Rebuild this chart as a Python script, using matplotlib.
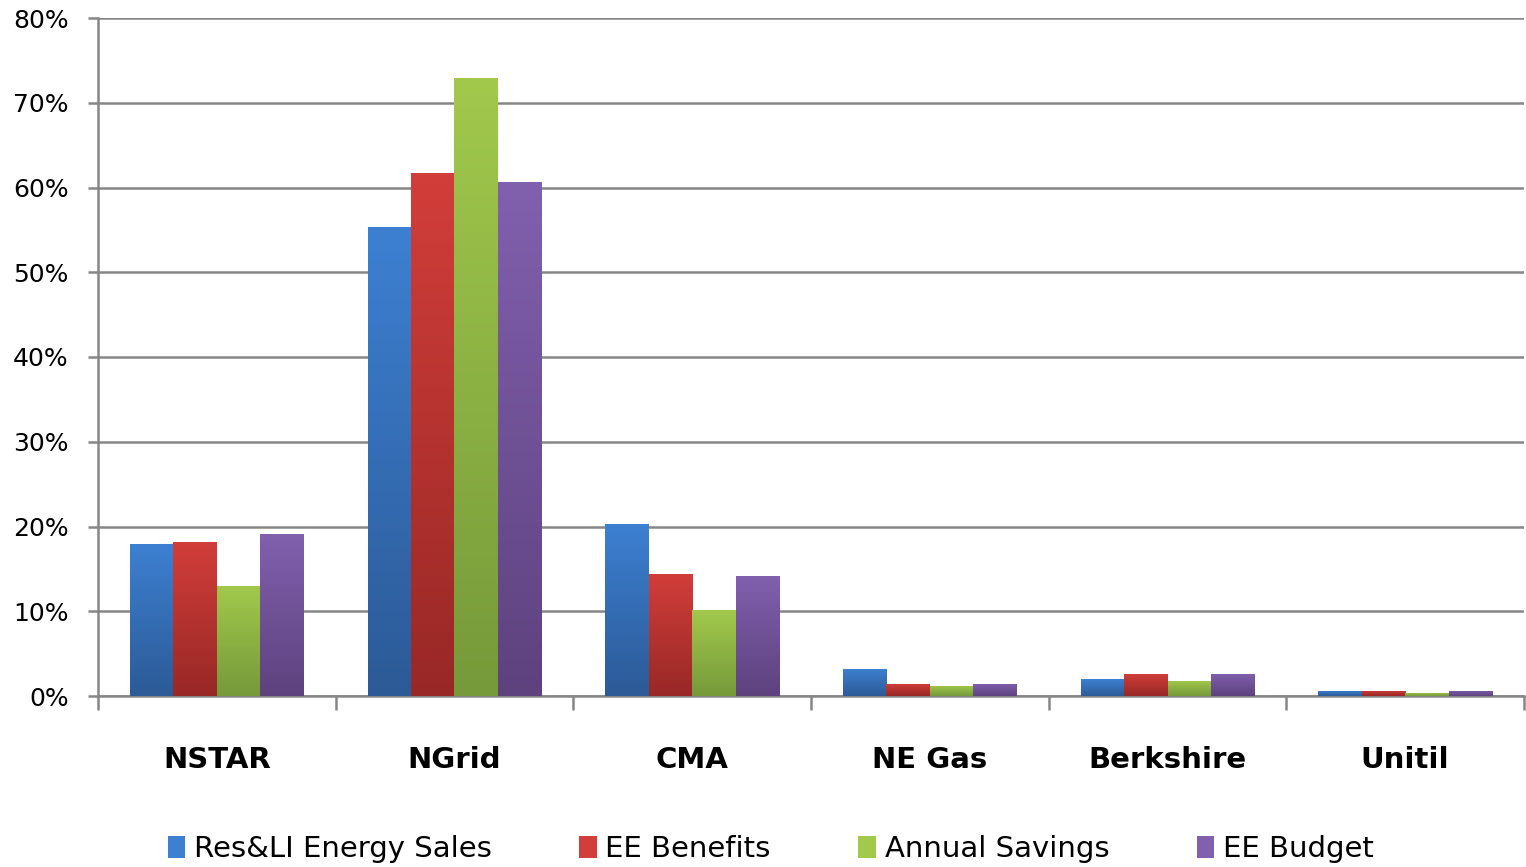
import numpy as np
import matplotlib
matplotlib.use('Agg')
import matplotlib.pyplot as plt
from matplotlib.colors import LinearSegmentedColormap
from matplotlib.patches import Patch

# data (percent)
companies = ['NSTAR', 'NGrid', 'CMA', 'NE Gas', 'Berkshire', 'Unitil']
series = ['Res&LI Energy Sales', 'EE Benefits', 'Annual Savings', 'EE Budget']
res_sales = [17.9, 55.3, 20.3, 3.2, 2.0, 0.6]
ee_benefits = [18.2, 61.7, 14.4, 1.45, 2.6, 0.6]
annual_savings = [13.0, 72.9, 10.1, 1.2, 1.8, 0.4]
ee_budget = [19.1, 60.7, 14.2, 1.45, 2.6, 0.6]
values = [res_sales, ee_benefits, annual_savings, ee_budget]

# (top colour, bottom colour) for the gradient fill
grads = [('#3d80d2', '#2c5a96'),
         ('#d23e3a', '#982826'),
         ('#a2c94c', '#76993a'),
         ('#8160ae', '#5d427e')]

plt.rcParams['font.family'] = ['DejaVu Sans']

fig = plt.figure(figsize=(15.26, 8.67), dpi=100)
ax = fig.add_axes([98/1526, 1-696/867, (1524-98)/1526, (696-18)/867])

x = np.arange(len(companies))
w = 0.183
grad_img = np.linspace(0, 1, 256).reshape(-1, 1)

for i, vals in enumerate(values):
    pos = x + (i - 1.5) * w
    bars = ax.bar(pos, vals, width=w, color=grads[i][0], zorder=3)
    cmap = LinearSegmentedColormap.from_list('g%d' % i, [grads[i][0], grads[i][1]])
    for b in bars:
        b.set_facecolor('none')
        bx, by = b.get_x(), b.get_y()
        bw, bh = b.get_width(), b.get_height()
        im = ax.imshow(grad_img, cmap=cmap, aspect='auto', zorder=3,
                       extent=[bx, bx + bw, by, by + bh], origin='upper')
        im.set_clip_path(b)

ax.set_xlim(-0.5, len(companies) - 0.5)
ax.set_ylim(0, 80)
ax.set_yticks(range(0, 81, 10))
ax.set_yticklabels(['%d%%' % v for v in range(0, 81, 10)], fontsize=18)
ax.yaxis.grid(True, color='#868686', linewidth=1.8, zorder=0)
ax.set_axisbelow(True)

ax.set_xticks(x)
ax.set_xticklabels(companies, fontsize=21, fontweight='bold')
ax.set_xticks(np.arange(-0.5, len(companies)), minor=True)
ax.tick_params(axis='x', which='major', length=0, pad=36)
ax.tick_params(axis='x', which='minor', length=10, width=1.8, color='#868686')
ax.tick_params(axis='y', length=7, width=1.8, color='#868686', pad=14)

for s in ['top', 'right']:
    ax.spines[s].set_visible(False)
for s in ['left', 'bottom']:
    ax.spines[s].set_color('#868686')
    ax.spines[s].set_linewidth(1.8)

handles = [Patch(facecolor=c[0], edgecolor='none') for c in grads]
fig.legend(handles, series, loc='lower center', ncol=4, frameon=False,
           fontsize=21, bbox_to_anchor=(0.505, -0.026), handlelength=0.6,
           handleheight=0.8, handletextpad=0.3, columnspacing=3.0)

fig.savefig('out.png', dpi=100)
